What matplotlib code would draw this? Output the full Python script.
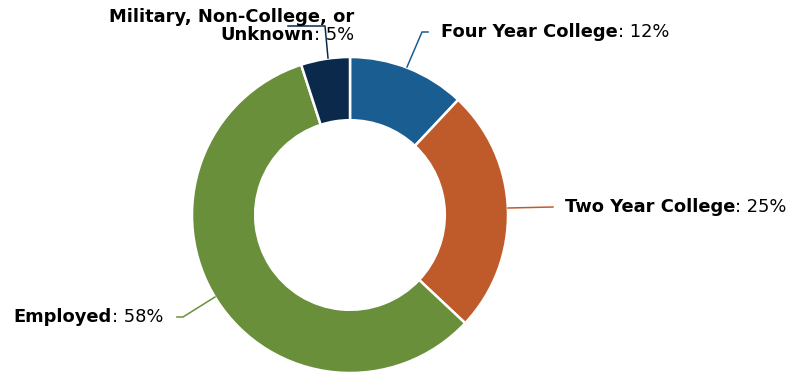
import matplotlib
matplotlib.use("Agg")
import matplotlib.pyplot as plt

categories = ["Four Year College", "Two Year College", "Employed", "Military, Non-College, or\nUnknown"]
values = [12, 25, 58, 5]
pct_labels = ["12%", "25%", "58%", "5%"]
colors = ["#1a5e91", "#bf5b2b", "#6a8f3b", "#0b2a4b"]

W, H = 789, 372
fig = plt.figure(figsize=(W / 100, H / 100), dpi=100)
ax = fig.add_axes([0, 0, 1, 1])
ax.set_xlim(0, W)
ax.set_ylim(0, H)
ax.set_aspect("equal")
ax.axis("off")

cx, cy = 350, H - 215
R = 158
wedges, _ = ax.pie(values, colors=colors, startangle=90, counterclock=False,
                   radius=R, center=(cx, cy), frame=True,
                   wedgeprops=dict(width=R * 0.40, edgecolor="white", linewidth=1.8))
ax.set_xlim(0, W)
ax.set_ylim(0, H)
ax.axis("off")

FS = 12.9
fig.canvas.draw()
r = fig.canvas.get_renderer()
inv = ax.transData.inverted()


def label(x, y, bold, normal, ha):
    if ha == "left":
        t1 = ax.text(x, y, bold, fontsize=FS, fontweight="bold", ha="left", va="baseline")
        bb = t1.get_window_extent(renderer=r)
        xr = inv.transform((bb.x1, 0))[0]
        ax.text(xr, y, normal, fontsize=FS, ha="left", va="baseline")
    else:
        t2 = ax.text(x, y, normal, fontsize=FS, ha="right", va="baseline")
        bb = t2.get_window_extent(renderer=r)
        xl = inv.transform((bb.x0, 0))[0]
        ax.text(xl, y, bold, fontsize=FS, fontweight="bold", ha="right", va="baseline")


def Y(py):
    return H - py

# leader lines (pixel coords of reference)
ax.plot([407, 422, 428], [Y(67), Y(32), Y(32)], color=colors[0], lw=1.1)
ax.plot([508, 553], [Y(208), Y(207)], color=colors[1], lw=1.1)
ax.plot([215, 183, 177], [Y(297), Y(317), Y(317)], color=colors[2], lw=1.1)
ax.plot([328, 325, 288], [Y(58), Y(26), Y(26)], color=colors[3], lw=1.1)

label(441, Y(37), categories[0], ": " + pct_labels[0], "left")
label(565, Y(212), categories[1], ": " + pct_labels[1], "left")
label(163, Y(322), categories[2], ": " + pct_labels[2], "right")
first, second = categories[3].split("\n")
ax.text(354, Y(22), first, fontsize=FS, fontweight="bold", ha="right", va="baseline")
label(354, Y(40), second, ": " + pct_labels[3], "right")

fig.savefig("out.png", dpi=100)
